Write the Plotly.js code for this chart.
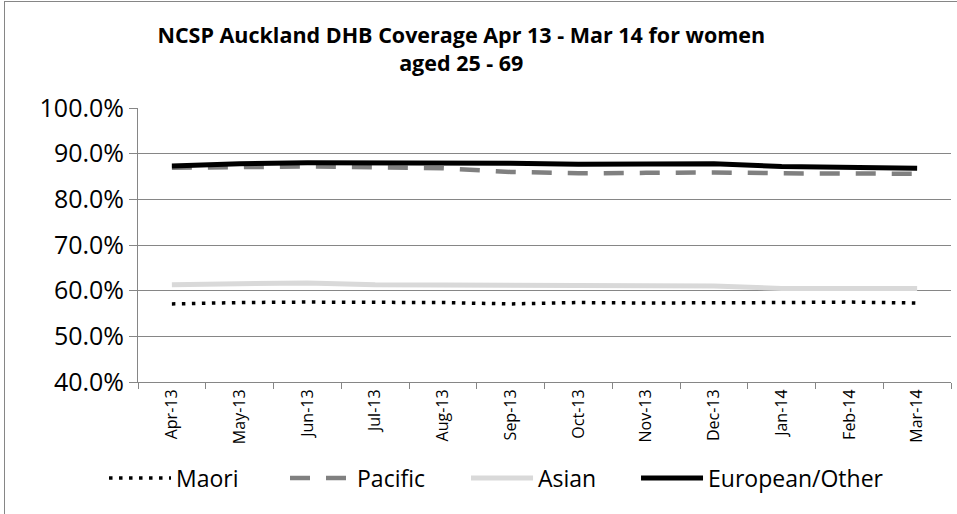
<!DOCTYPE html>
<html>
<head>
<meta charset="utf-8">
<script src="https://cdn.plot.ly/plotly-3.0.1.min.js"></script>
<style>
html,body{margin:0;padding:0;background:#fff;}
#chart{width:957px;height:514px;}
#frame{position:absolute;left:4px;top:1px;width:1000px;height:600px;border:1px solid #868686;pointer-events:none;}
</style>
</head>
<body>
<div id="chart"></div>
<div id="frame"></div>
<script>
const months = ["Apr-13","May-13","Jun-13","Jul-13","Aug-13","Sep-13","Oct-13","Nov-13","Dec-13","Jan-14","Feb-14","Mar-14"];
const maori = [57.1,57.4,57.5,57.5,57.4,57.1,57.4,57.3,57.3,57.4,57.5,57.3];
const pacific = [86.9,87.0,87.2,87.0,86.8,86.0,85.7,85.8,85.9,85.7,85.6,85.6];
const asian = [61.3,61.4,61.7,61.3,61.2,61.2,61.1,61.0,61.0,60.5,60.5,60.5];
const european = [87.3,87.8,88.0,88.0,88.0,87.9,87.7,87.7,87.8,87.2,87.0,86.8];
const seriesNames = ["Maori","Pacific","Asian","European/Other"];
const titleText = "NCSP Auckland DHB Coverage Apr 13 - Mar 14 for women<br>aged 25 - 69";

const font = "'Open Sans', sans-serif";
const traces = [
  {x: months, y: maori, name: seriesNames[0], type: 'scatter', mode: 'lines', legend: 'legend',
   line: {color: '#000000', width: 3.5, dash: '3.5px,6.5px'}},
  {x: months, y: pacific, name: seriesNames[1], type: 'scatter', mode: 'lines', legend: 'legend',
   line: {color: '#808080', width: 4.5, dash: '20px,16px'}},
  {x: months, y: asian, name: seriesNames[2], type: 'scatter', mode: 'lines', legend: 'legend',
   line: {color: '#d9d9d9', width: 5}},
  {x: months, y: european, name: seriesNames[3], type: 'scatter', mode: 'lines', legend: 'legend2',
   line: {color: '#000000', width: 5}}
];
const legendFont = {size: 23, family: font, color: '#000'};
const layout = {
  width: 957, height: 514,
  margin: {l: 138, r: 6, t: 108, b: 132},
  paper_bgcolor: '#fff', plot_bgcolor: '#fff',
  font: {family: font, color: '#000'},
  title: {text: '<b>' + titleText + '</b>', automargin: false,
    x: 0.482, xref: 'container', xanchor: 'center', yref: 'container', y: 0.916, yanchor: 'middle',
    font: {size: 21.5, family: font, color: '#000'}},
  xaxis: {type: 'category', tickangle: -90, tickson: 'boundaries', ticks: 'outside', ticklen: 6,
    tickcolor: '#868686', showline: true, linecolor: '#868686', linewidth: 1, showgrid: false,
    tickfont: {size: 16, family: font, color: '#000'}, range: [-0.5, 11.5]},
  yaxis: {range: [40, 100], dtick: 10, tick0: 40, tickformat: '.1f', ticksuffix: '%',
    ticks: 'outside', ticklen: 8, tickcolor: '#868686', showline: true, linecolor: '#868686',
    gridcolor: '#868686', gridwidth: 1, zeroline: false,
    tickfont: {size: 25, family: font, color: '#000'}},
  showlegend: true,
  legend: {orientation: 'h', xref: 'container', yref: 'container', x: 0.1087, xanchor: 'left',
    y: 0.07, yanchor: 'middle', font: legendFont, itemwidth: 62, bgcolor: 'rgba(0,0,0,0)',
    entrywidth: 104, entrywidthmode: 'pixels', traceorder: 'normal'},
  legend2: {orientation: 'h', xref: 'container', yref: 'container', x: 0.6646, xanchor: 'left',
    y: 0.07, yanchor: 'middle', font: legendFont, itemwidth: 62, bgcolor: 'rgba(0,0,0,0)',
    traceorder: 'normal'}
};
Plotly.newPlot('chart', traces, layout, {displayModeBar: false, staticPlot: true});
</script>
</body>
</html>
